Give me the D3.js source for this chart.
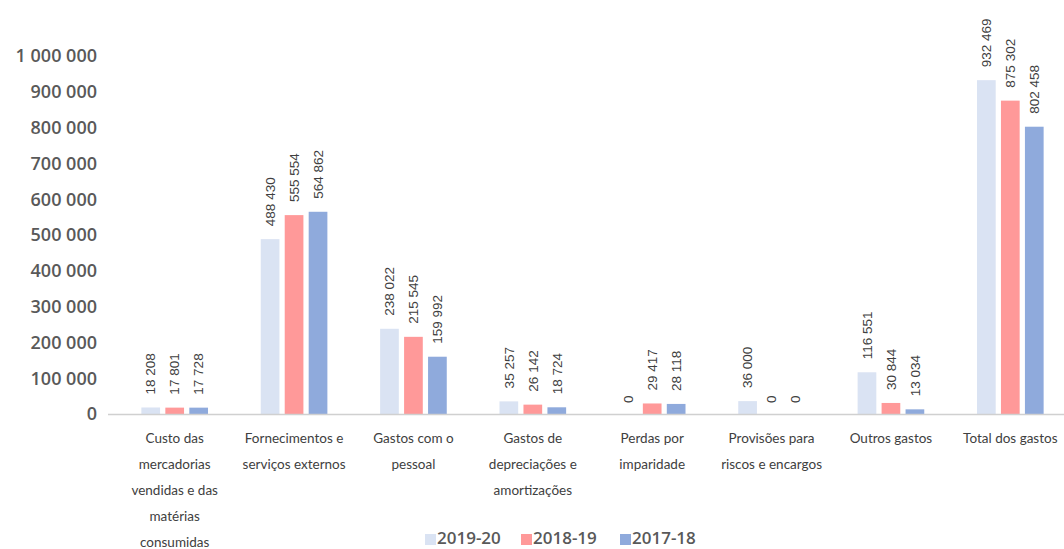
<!DOCTYPE html>
<html><head><meta charset="utf-8">
<script src="https://cdn.jsdelivr.net/npm/d3@7"></script>
<style>body{margin:0;background:#fff;} svg{display:block;}</style>
</head><body>
<svg id="c" width="1064" height="549"></svg>
<script>
const categories = ["Custo das mercadorias vendidas e das matérias consumidas","Fornecimentos e serviços externos","Gastos com o pessoal","Gastos de depreciações e amortizações","Perdas por imparidade","Provisões para riscos e encargos","Outros gastos","Total dos gastos"];
const categoryLines = [["Custo das","mercadorias","vendidas e das","matérias","consumidas"],["Fornecimentos e","serviços externos"],["Gastos com o","pessoal"],["Gastos de","depreciações e","amortizações"],["Perdas por","imparidade"],["Provisões para","riscos e encargos"],["Outros gastos"],["Total dos gastos"]];
const seriesNames = ["2019-20","2018-19","2017-18"];
const values2019_20 = [18208,488430,238022,35257,0,36000,116551,932469];
const values2018_19 = [17801,555554,215545,26142,29417,0,30844,875302];
const values2017_18 = [17728,564862,159992,18724,28118,0,13034,802458];
const seriesColors = ["#dae3f3","#ff9999","#8faadc"];
const yTicks = [0,100000,200000,300000,400000,500000,600000,700000,800000,900000,1000000];

const seriesValues = [values2019_20, values2018_19, values2017_18];
const fmt = v => d3.format(",")(v).replace(/,/g," ");
const svg = d3.select("#c");
const y = d3.scaleLinear().domain([0,1000000]).range([414,56]);
const x = d3.scaleBand().domain(categories).range([115,1070]).paddingInner(0).paddingOuter(0);
const x1 = d3.scaleBand().domain(seriesNames).range([0,x.bandwidth()]).paddingInner(0.22).paddingOuter(1.1);

// y labels
svg.append("g").selectAll("text").data(yTicks).join("text")
  .attr("x",97).attr("y",d=>y(d)).attr("dy","0.36em").attr("text-anchor","end")
  .attr("font-family","Open Sans").attr("font-weight",600).attr("font-size",18).attr("fill","#595959")
  .text(d=>fmt(d));

// bars
const g = svg.append("g");
categories.forEach((c,i)=>{
  seriesNames.forEach((s,j)=>{
    const v = seriesValues[j][i];
    const bx = x(c)+x1(s);
    g.append("rect").attr("x",bx).attr("y",y(v)).attr("width",x1.bandwidth()).attr("height",y(0)-y(v)).attr("fill",seriesColors[j]);
    const cx = bx + x1.bandwidth()/2;
    const ty = y(v) - (v===0?11:13);
    g.append("text").attr("transform",`translate(${cx},${ty}) rotate(-90)`).attr("dy","0.35em")
      .attr("text-anchor","start").attr("font-family","Liberation Sans").attr("font-size",13.5).attr("fill","#404040")
      .text(fmt(v));
  });
});

// axis line
svg.append("line").attr("x1",108).attr("x2",1064).attr("y1",414.5).attr("y2",414.5).attr("stroke","#d0d0d0").attr("stroke-width",1.5);

// x labels
const xl = svg.append("g");
categories.forEach((c,i)=>{
  const t = xl.append("text").attr("text-anchor","middle").attr("font-family","Lato").attr("font-size",13.5).attr("fill","#404040");
  categoryLines[i].forEach((ln,k)=>{
    t.append("tspan").attr("x",x(c)+x.bandwidth()/2).attr("y",443+k*26).text(ln);
  });
});

// legend
const legX = [425,521,620];
seriesNames.forEach((s,j)=>{
  svg.append("rect").attr("x",legX[j]).attr("y",534).attr("width",11).attr("height",11).attr("fill",seriesColors[j]);
  svg.append("text").attr("x",legX[j]+12).attr("y",544)
    .attr("font-family","Open Sans").attr("font-weight",600).attr("font-size",17).attr("fill","#595959").text(s);
});
</script>
</body></html>
